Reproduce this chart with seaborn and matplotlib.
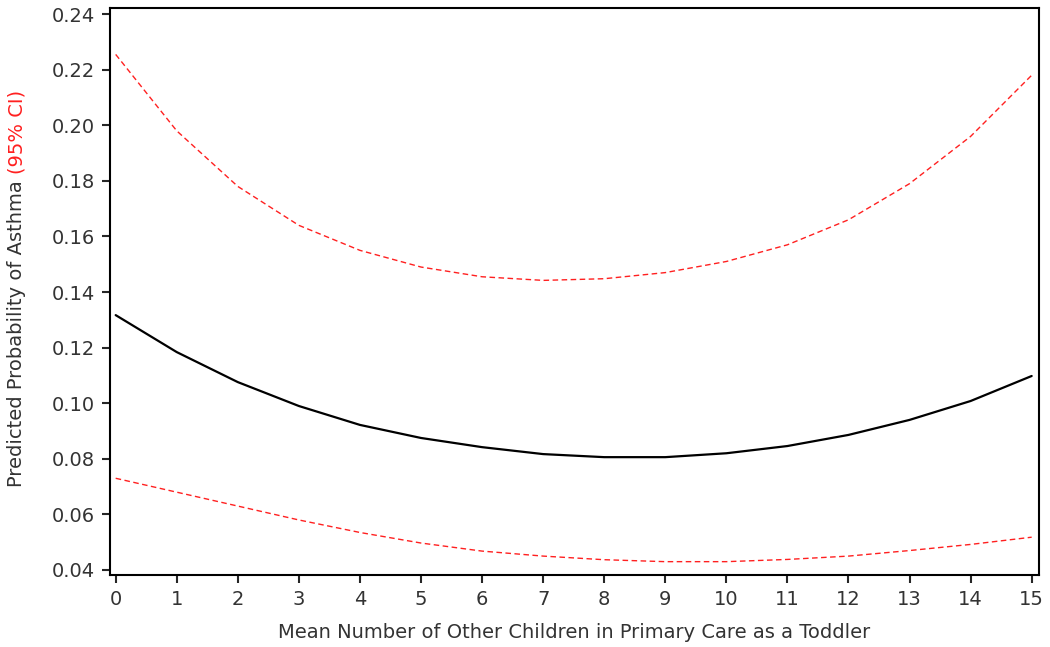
import matplotlib
matplotlib.use('Agg')
import matplotlib.pyplot as plt
import seaborn as sns
import pandas as pd
import numpy as np

# values
n_children = list(range(16))
predicted = [0.1317, 0.1184, 0.1076, 0.0990, 0.0922, 0.0875, 0.0842, 0.0817,
             0.0806, 0.0806, 0.0820, 0.0846, 0.0886, 0.0940, 0.1008, 0.1098]
ci_upper = [0.2255, 0.1980, 0.1780, 0.1640, 0.1550, 0.1490, 0.1455, 0.1442,
            0.1448, 0.1470, 0.1510, 0.1570, 0.1660, 0.1790, 0.1960, 0.2180]
ci_lower = [0.0730, 0.0680, 0.0630, 0.0580, 0.0535, 0.0497, 0.0468, 0.0450,
            0.0437, 0.0430, 0.0430, 0.0438, 0.0450, 0.0470, 0.0492, 0.0518]
y_ticks = [0.04, 0.06, 0.08, 0.10, 0.12, 0.14, 0.16, 0.18, 0.20, 0.22, 0.24]

df = pd.DataFrame({'x': n_children, 'pred': predicted,
                   'upper': ci_upper, 'lower': ci_lower})

sns.set_style('ticks')
plt.rcParams['font.family'] = ['DejaVu Sans']

fig = plt.figure(figsize=(10.5, 6.47), dpi=100)
ax = fig.add_axes([110 / 1050, 1 - 575 / 647, 929 / 1050, 567 / 647])

sns.lineplot(data=df, x='x', y='upper', ax=ax, color='#ff2020', linewidth=1.0,
             linestyle=(0, (4, 2.5)))
sns.lineplot(data=df, x='x', y='lower', ax=ax, color='#ff2020', linewidth=1.0,
             linestyle=(0, (4, 2.5)))
sns.lineplot(data=df, x='x', y='pred', ax=ax, color='black', linewidth=1.6)

ax.set_xlim(-0.093, 15.12)
ax.set_ylim(0.0382, 0.2422)
ax.set_xticks(n_children)
ax.set_yticks(y_ticks)
ax.set_yticklabels([f'{v:.2f}' for v in y_ticks])
ax.tick_params(axis='both', direction='out', length=6, width=1.5,
               labelsize=14, labelcolor='#333333', pad=5)
for sp in ax.spines.values():
    sp.set_linewidth(1.5)
    sp.set_color('black')

ax.set_xlabel('Mean Number of Other Children in Primary Care as a Toddler',
              fontsize=14, color='#333333', labelpad=10)
ax.set_ylabel('')

# two-coloured y label
fig.canvas.draw()
r = fig.canvas.get_renderer()
t1 = fig.text(17 / 1050, 1 - 487 / 647, 'Predicted Probability of Asthma ',
              rotation=90, ha='center', va='bottom', fontsize=14, color='#333333')
bb = t1.get_window_extent(r)
fig.text(17 / 1050, bb.y1 / fig.bbox.height, '(95% CI)', rotation=90,
         ha='center', va='bottom', fontsize=14, color='#ff2020')

fig.savefig('out.png', dpi=100)
